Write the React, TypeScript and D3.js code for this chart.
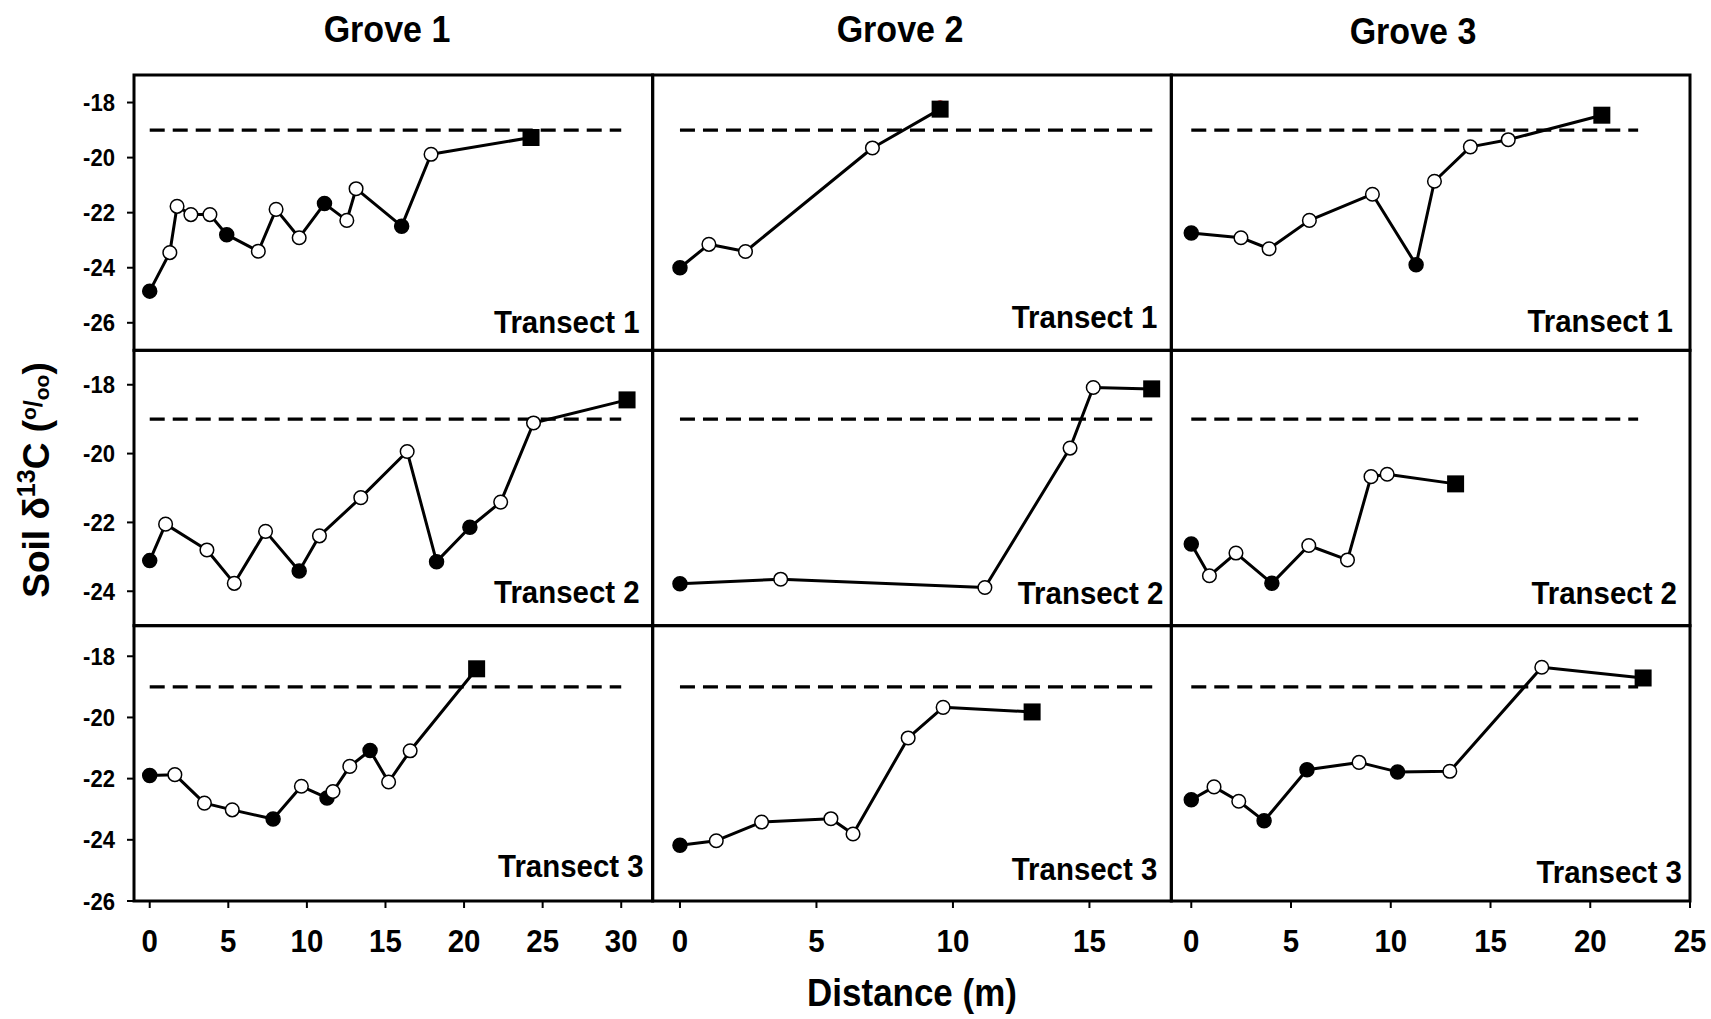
import React, { useEffect } from "react";
import * as d3 from "d3";

// ---------- data ----------
const groves = ["Grove 1", "Grove 2", "Grove 3"];
const transects = ["Transect 1", "Transect 2", "Transect 3"];
const referenceValue = -19;
const referenceEnd = [30, 17.3, 22.4]; // distance where dashed reference line ends, per grove

const xDomains = [[-1, 32], [-1, 18], [-1, 25]];
const yDomains = [[-27, -17], [-25, -17], [-26, -17]];
const xTicks = [[0, 5, 10, 15, 20, 25, 30], [0, 5, 10, 15], [0, 5, 10, 15, 20, 25]];
const yTicks = [[-18, -20, -22, -24, -26], [-18, -20, -22, -24], [-18, -20, -22, -24, -26]];

// [distance (m), soil d13C, marker: f = filled circle, o = open circle, s = square]
const g1t1: [number, number, string][] = [
  [0, -24.85, "f"], [1.28, -23.45, "o"], [1.74, -21.77, "o"], [2.62, -22.07, "o"], [3.83, -22.07, "o"],
  [4.9, -22.8, "f"], [6.91, -23.4, "o"], [8.04, -21.88, "o"], [9.51, -22.91, "o"], [11.12, -21.67, "f"],
  [12.54, -22.28, "o"], [13.13, -21.13, "o"], [16.03, -22.49, "f"], [17.9, -19.88, "o"], [24.26, -19.27, "s"],
];
const g2t1: [number, number, string][] = [
  [0, -24.0, "f"], [1.06, -23.15, "o"], [2.4, -23.41, "o"], [7.05, -19.65, "o"], [9.53, -18.24, "s"],
];
const g3t1: [number, number, string][] = [
  [0, -22.74, "f"], [2.49, -22.91, "o"], [3.9, -23.31, "o"], [5.92, -22.28, "o"], [9.08, -21.33, "o"],
  [11.27, -23.89, "f"], [12.19, -20.86, "o"], [13.99, -19.61, "o"], [15.89, -19.35, "o"], [20.58, -18.46, "s"],
];
const g1t2: [number, number, string][] = [
  [0, -23.11, "f"], [1.01, -22.05, "o"], [3.64, -22.8, "o"], [5.38, -23.77, "o"], [7.37, -22.26, "o"],
  [9.51, -23.41, "f"], [10.8, -22.39, "o"], [13.43, -21.28, "o"], [16.38, -19.94, "o"], [18.25, -23.14, "f"],
  [20.37, -22.14, "f"], [22.33, -21.41, "o"], [24.42, -19.11, "o"], [30.37, -18.44, "s"],
];
const g2t2: [number, number, string][] = [
  [0, -23.78, "f"], [3.69, -23.65, "o"], [11.17, -23.89, "o"], [14.29, -19.84, "o"], [15.14, -18.08, "o"],
  [17.28, -18.12, "s"],
];
const g3t2: [number, number, string][] = [
  [0, -22.63, "f"], [0.91, -23.55, "o"], [2.24, -22.89, "o"], [4.04, -23.77, "f"], [5.89, -22.67, "o"],
  [7.83, -23.09, "o"], [9.01, -20.67, "o"], [9.82, -20.6, "o"], [13.25, -20.88, "s"],
];
const g1t3: [number, number, string][] = [
  [0, -21.9, "f"], [1.6, -21.87, "o"], [3.48, -22.8, "o"], [5.25, -23.02, "o"], [7.85, -23.32, "f"],
  [9.65, -22.25, "o"], [11.28, -22.63, "f"], [11.66, -22.42, "o"], [12.73, -21.6, "o"], [14.02, -21.08, "f"],
  [15.2, -22.11, "o"], [16.57, -21.09, "o"], [20.8, -18.41, "s"],
];
const g2t3: [number, number, string][] = [
  [0, -24.18, "f"], [1.33, -24.03, "o"], [2.99, -23.42, "o"], [5.53, -23.31, "o"], [6.34, -23.81, "o"],
  [8.36, -20.67, "o"], [9.64, -19.67, "o"], [12.9, -19.82, "s"],
];
const g3t3: [number, number, string][] = [
  [0, -22.69, "f"], [1.14, -22.27, "o"], [2.38, -22.74, "o"], [3.65, -23.38, "f"], [5.8, -21.71, "f"],
  [8.41, -21.47, "o"], [10.34, -21.78, "f"], [12.96, -21.76, "o"], [17.57, -18.36, "o"], [22.65, -18.71, "s"],
];

// rows = transects, columns = groves
const panels = [
  [g1t1, g2t1, g3t1],
  [g1t2, g2t2, g3t2],
  [g1t3, g2t3, g3t3],
];

// ---------- layout ----------
const W = 1711;
const H = 1019;
const LEFT = 134;
const RIGHT = 1690;
const TOP = 75;
const BOTTOM = 901;
const colW = (RIGHT - LEFT) / 3;
const rowH = (BOTTOM - TOP) / 3;
const titleX = [387, 900, 1413];
const titleY = [42, 42, 44];
// label anchor offsets (from panel bottom-right corner)
const labelInset = [
  [[13, 17], [14, 22], [17, 18]],
  [[13, 23], [8, 22], [13, 22]],
  [[9, 24], [14, 21], [8, 18]],
];
const FONT = "'Liberation Sans', Arial, Helvetica, sans-serif";
const SX = 0.92; // slight horizontal condensing of the bold sans

export default function App() {
  useEffect(() => {
    document.body.style.margin = "0";
  }, []);

  const lineGen = d3.line<[number, number, string]>();

  const content: React.ReactNode[] = [];

  for (let r = 0; r < 3; r++) {
    for (let c = 0; c < 3; c++) {
      const x0 = LEFT + c * colW;
      const x1 = x0 + colW;
      const y0 = TOP + r * rowH;
      const y1 = y0 + rowH;
      const x = d3.scaleLinear().domain(xDomains[c]).range([x0, x1]);
      const y = d3.scaleLinear().domain(yDomains[r]).range([y1, y0]);
      const pts = panels[r][c];
      const path = lineGen.x((d) => x(d[0])).y((d) => y(d[1]))(pts) || "";
      const [ri, bi] = labelInset[r][c];
      content.push(
        <g key={`p${r}${c}`}>
          <line
            x1={x(0)}
            x2={x(referenceEnd[c])}
            y1={y(referenceValue)}
            y2={y(referenceValue)}
            stroke="#000"
            strokeWidth={3.2}
            strokeDasharray="15 8"
          />
          <path d={path} fill="none" stroke="#000" strokeWidth={3} strokeLinejoin="round" />
          {r === 0 && c === 1 && (
            <circle cx={x(pts[pts.length - 1][0])} cy={y(pts[pts.length - 1][1]) - 3} r={6} fill="#c00000" />
          )}
          {pts.map((d, i) =>
            d[2] === "s" ? (
              <rect key={i} x={x(d[0]) - 8.5} y={y(d[1]) - 8.5} width={17} height={17} fill="#000" />
            ) : (
              <circle
                key={i}
                cx={x(d[0])}
                cy={y(d[1])}
                r={d[2] === "f" ? 7 : 6.8}
                fill={d[2] === "f" ? "#000" : "#fff"}
                stroke="#000"
                strokeWidth={1.5}
              />
            )
          )}
          <text
            transform={`translate(${x1 - ri},${y1 - bi}) scale(${SX},1)`}
            textAnchor="end"
            fontFamily={FONT}
            fontWeight="bold"
            fontSize={32}
            fill="#000"
          >
            {transects[r]}
          </text>
          <rect x={x0} y={y0} width={colW} height={rowH} fill="none" stroke="#000" strokeWidth={3} />
          {c === 0 &&
            yTicks[r].map((t) => (
              <g key={`yt${t}`}>
                <line x1={x0 - 7} x2={x0} y1={y(t)} y2={y(t)} stroke="#000" strokeWidth={2} />
                <text
                  transform={`translate(${x0 - 19},${y(t) + 8.5}) scale(0.92,1)`}
                  textAnchor="end"
                  fontFamily={FONT}
                  fontWeight="bold"
                  fontSize={24}
                  fill="#000"
                >
                  {t}
                </text>
              </g>
            ))}
          {r === 2 &&
            xTicks[c].map((t) => (
              <g key={`xt${t}`}>
                <line x1={x(t)} x2={x(t)} y1={y1} y2={y1 + 7} stroke="#000" strokeWidth={2} />
                <text
                  transform={`translate(${x(t)},952) scale(${SX},1)`}
                  textAnchor="middle"
                  fontFamily={FONT}
                  fontWeight="bold"
                  fontSize={32}
                  fill="#000"
                >
                  {t}
                </text>
              </g>
            ))}
        </g>
      );
    }
  }

  return (
    <svg
      width={W}
      height={H}
      style={{ position: "absolute", left: 0, top: 0, background: "#fff" }}
      xmlns="http://www.w3.org/2000/svg"
    >
      <rect x={0} y={0} width={W} height={H} fill="#fff" />
      {groves.map((g, i) => (
        <text
          key={g}
          transform={`translate(${titleX[i]},${titleY[i]}) scale(${SX},1)`}
          textAnchor="middle"
          fontFamily={FONT}
          fontWeight="bold"
          fontSize={37}
          fill="#000"
        >
          {g}
        </text>
      ))}
      {content}
      <text
        transform={`translate(912,1006) scale(${SX},1)`}
        textAnchor="middle"
        fontFamily={FONT}
        fontWeight="bold"
        fontSize={38}
        fill="#000"
      >
        Distance (m)
      </text>
      <text
        transform={`translate(49,480) rotate(-90)`}
        textAnchor="middle"
        fontFamily={FONT}
        fontWeight="bold"
        fontSize={37}
        fill="#000"
      >
        Soil δ
        <tspan fontSize={25} dy={-14}>13</tspan>
        <tspan dy={14}>C (</tspan>
        <tspan fontSize={21} dy={-13}>o</tspan>
        <tspan fontSize={25} dy={6}>/</tspan>
        <tspan fontSize={21} dy={7}>oo</tspan>
        <tspan dy={0}>)</tspan>
      </text>
    </svg>
  );
}
